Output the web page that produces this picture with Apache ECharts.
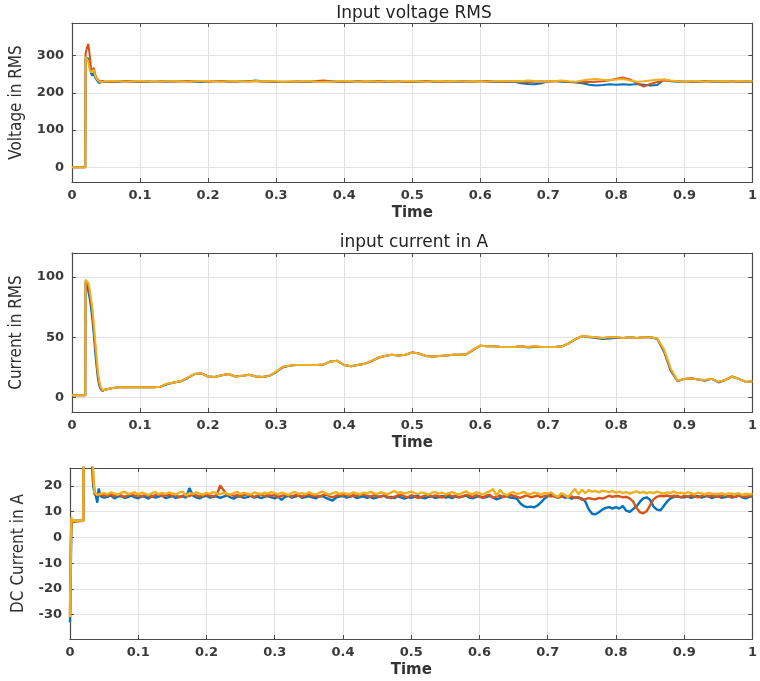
<!DOCTYPE html>
<html><head><meta charset="utf-8">
<script src="https://cdn.jsdelivr.net/npm/echarts@6/dist/echarts.min.js"></script>
<style>html,body{margin:0;padding:0;background:#fff}#c{width:760px;height:681px}</style>
</head><body><div id="c"></div>
<script>
// ---------- labels ----------
const panelTitles = ['Input voltage RMS', 'input current in A', ''];
const yNames = ['Voltage in RMS', 'Current in RMS', 'DC Current in A'];
const xName = 'Time';
const lineColors = ['#0072BD', '#D95319', '#EDB120'];
const xTicks = [0, 0.1, 0.2, 0.3, 0.4, 0.5, 0.6, 0.7, 0.8, 0.9, 1];
const yTicks1 = [0, 100, 200, 300];
const yTicks2 = [0, 50, 100];
const yTicks3 = [-30, -20, -10, 0, 10, 20];
const yRange1 = [-40, 388];
const yRange2 = [-12, 120];
const yRange3 = [-39.5, 27];

// ---------- time samples (panels 1 & 2) ----------
const tAcStart = [0, 0.0195, 0.02, 0.022, 0.024, 0.026, 0.028, 0.03, 0.032, 0.034, 0.036, 0.038, 0.04, 0.042, 0.045, 0.048];
const acSteadyStart = 0.05, acSteadyStep = 0.01, acSteadyCount = 96;

// ---------- panel 1: input voltage RMS ----------
const voltBlue = [0, 0, 295, 300, 292, 272, 252, 246, 255, 241, 235, 231, 226, 228, 232, 230,
  230,229,230,231,230,229,230,230,229,230,
  231,232,231,230,229,231,232,231,230,231,
  232,231,233,231,230,229,230,229,229,230,
  230,231,230,231,230,229,230,231,232,230,
  229,230,231,229,230,229,230,231,230,230,
  231,230,230,229,231,232,230,229,230,229,
  230,226,224,223,226,231,232,230,229,228,
  226,222,220,221,223,222,223,222,224,222,
  220,221,236,231,230,230,229,230,231,230,
  230,231,229,230,230,230];
const voltRed = [0, 0, 305, 322, 332, 302, 266, 258, 268, 250, 240, 235, 232, 230, 231, 230,
  231,230,231,232,231,230,231,230,231,231,
  230,231,232,231,232,230,231,232,231,230,
  231,232,231,230,231,230,229,230,231,230,
  231,232,233,231,230,231,230,231,230,231,
  232,231,230,231,229,230,231,232,231,230,
  230,231,232,231,230,231,232,231,230,231,
  231,230,229,230,231,230,231,232,230,229,
  230,229,230,231,234,238,241,236,226,217,
  224,229,233,232,231,230,231,230,231,231,
  231,230,231,230,231,231];
const voltYellow = [0, 0, 298, 296, 285, 262, 255, 260, 262, 245, 238, 233, 230, 229, 230, 231,
  231,232,231,230,231,232,231,230,230,231,
  232,231,230,231,232,232,231,230,231,232,
  231,230,232,231,232,231,230,231,230,231,
  232,230,229,230,231,232,231,230,232,231,
  230,231,232,230,231,232,231,230,231,232,
  231,232,231,230,232,231,230,231,232,231,
  232,231,233,232,230,231,232,233,231,230,
  233,236,237,235,234,236,237,233,230,231,
  233,235,236,233,231,230,231,232,230,231,
  231,232,230,231,231,231];

// ---------- panel 2: input current RMS ----------
const currBlue = [2, 2, 96, 93, 88, 82, 74, 64, 52, 38, 26, 16, 10, 7, 5.5, 6.5,
  7,8,8.5,8.5,8.5,8.5,8.5,8.5,9,11,
  12.5,13.5,16,19.5,20,17.5,17,18.5,19.5,17.5,
  18,19,17.5,17,18,21,25,26.5,27,27,
  27,27,27.5,30,30.5,27,26,27,28,30,
  33,34.5,35.5,35,35.5,37.5,36.5,34.5,34,34.5,
  35,35.5,35.5,36,39.5,43,42.5,42.5,42,42,
  42,42.5,41.5,42,42,42,42,42.5,45,48.5,
  51,50,49.5,48.5,49,49.5,49.5,50,49.5,50,
  50,48.5,38,22,13.5,15.5,16,15,14,15.5,
  12.5,14.5,17.5,15.5,13,13.5];
const currRed = [2, 2, 97, 96, 93, 87, 79, 70, 57, 43, 30, 19, 12, 8, 5.5, 6.5,
  7,8,8.5,8.5,8.5,8.5,8.5,8.5,9,11.5,
  12.5,13.5,16.5,19.5,20,17.5,17,18.5,19.5,17.5,
  18,19,17.5,17,18,21.5,25.5,26.5,27,27,
  27,27,27.5,30,30.5,27,26,27,28,30.5,
  33,34.5,35.5,35,35.5,37.5,36.5,34.5,34,34.5,
  35,35.5,35.5,36,40,43,42.5,42.5,42,42,
  42,42.5,42,42.5,42,42,42,42.5,45,48.5,
  51,50.5,50,49.5,50,50,49.5,50,49.5,50,
  50,49,39,23,14,15.5,16,15,14.5,15.5,
  13,14.5,17.5,15.5,13,13.5];
const currYellow = [2, 2, 98, 97, 95, 90, 82, 74, 62, 48, 35, 22, 14, 9, 6, 6.5,
  7,8,8.5,8.5,8.5,8.5,8.5,8.5,9,11.5,
  12.5,13.5,16.5,19.5,20,17.5,17,18.5,19.5,17.5,
  18,19,17.5,17,18,21.5,25.5,26.5,27,27,
  27,27,27.5,30,30.5,27,26,27,28,30.5,
  33,34.5,35.5,35,35.5,37.5,36.5,34.5,34,34.5,
  35,35.5,35.5,36,40,43,42.5,42.5,42,42,
  42,42.5,42,42.5,42,42,42,42.5,45,48.5,
  51,50.5,50,49.5,50,50,49.5,50,49.5,50,
  50,49,40,24,14,15.5,16,15,14.5,15.5,
  13,14.5,17.5,15.5,13,13.5];

// ---------- panel 3: DC current ----------
const tDcStart = [0, 0.001, 0.002, 0.003, 0.0195, 0.02, 0.03, 0.032, 0.034, 0.036, 0.038, 0.04, 0.042, 0.045];
const dcSteadyStart = 0.05, dcSteadyStep = 0.005, dcSteadyCount = 191;
const dcBlue = [-33, -15, 4, 6.5, 6.5, 40, 40, 30, 20, 17, 16, 13.5, 19, 16,
  15.5,15.8,16.4,15.2,15.9,16.1,15.4,15.7,16.3,15.6,
  15.2,16.0,15.8,15.1,16.2,15.5,15.9,16.4,15.3,15.7,
  16.1,15.4,15.8,16.0,15.5,19.2,16.3,15.6,15.2,15.9,
  16.2,15.5,15.8,16.0,15.4,15.9,16.3,15.6,15.1,15.8,
  16.0,15.4,15.7,16.2,15.5,15.9,15.3,15.8,16.1,15.6,
  15.2,15.9,14.6,15.8,16.2,15.5,15.9,16.3,15.4,15.7,
  16.0,15.6,15.2,15.9,16.1,15.4,14.8,14.3,15.6,15.9,
  16.1,15.5,15.8,16.2,15.3,15.7,16.0,15.4,15.8,15.2,
  15.6,15.9,16.2,15.5,15.8,15.3,16.0,15.6,15.1,15.7,
  15.4,15.9,16.1,15.5,15.2,15.8,16.0,15.4,15.6,16.2,
  15.5,15.8,15.3,16.0,15.6,15.9,16.3,15.5,15.2,15.8,
  16.0,15.4,15.7,16.2,15.5,14.8,15.3,15.9,16.1,15.5,
  15.4,15.0,13.2,12.2,11.8,12.0,11.7,12.4,13.6,15.0,
  16.0,16.8,15.9,15.5,16.2,15.4,15.8,15.1,15.6,15.3,
  15.2,14.0,11.0,9.2,9.0,9.8,10.8,11.5,11.8,11.2,
  11.8,11.2,12.2,10.4,9.9,11.0,12.0,13.8,15.2,15.6,
  14.6,12.0,10.8,10.5,12.2,14.0,15.2,15.8,16.0,15.6,
  15.6,16.0,15.4,15.8,16.1,15.5,15.9,16.2,15.3,15.8,
  16.0,15.4,15.7,16.1,15.5,15.9,16.3,15.6,15.2,15.8,
  16.0];
const dcRed = [-30, -5, 6, 6.5, 6.5, 40, 40, 36, 22, 18, 16.5, 16, 17, 16.4,
  16.5,16.2,16.8,16.0,16.6,16.3,15.8,16.4,16.9,16.1,
  16.4,15.9,16.6,16.2,15.7,16.5,16.8,16.0,16.3,16.6,
  16.1,16.7,15.6,16.2,16.5,16.0,16.8,16.3,15.9,16.4,
  16.6,16.2,16.0,16.5,20.2,18.4,16.3,16.7,16.1,16.4,
  16.0,16.5,16.8,16.2,15.8,16.4,16.6,16.1,16.5,16.2,
  16.4,15.8,16.1,16.6,16.3,16.0,16.5,16.2,15.9,16.4,
  16.6,16.1,16.3,15.8,16.4,16.7,16.0,15.6,16.2,16.5,
  16.3,16.7,16.0,16.4,16.1,16.5,16.8,16.2,15.9,16.4,
  16.1,15.7,16.4,16.0,15.2,15.8,16.3,16.6,16.0,15.6,
  16.4,16.0,15.3,15.8,16.2,16.5,15.9,16.3,16.0,15.5,
  16.2,16.6,15.9,16.3,15.6,16.0,16.5,16.2,15.8,16.4,
  16.0,15.5,16.2,16.6,15.4,15.9,16.3,15.7,16.1,16.5,
  16.2,15.8,15.4,16.0,16.4,15.6,15.9,16.3,15.7,16.1,
  16.4,15.9,16.2,15.5,15.8,16.3,15.6,16.0,15.3,15.8,
  14.6,14.9,15.3,15.0,14.8,15.4,15.1,15.6,16.2,15.8,
  16.1,16.0,15.6,15.8,15.2,14.0,11.5,9.8,9.4,10.2,
  12.5,14.8,15.8,16.2,16.0,16.3,15.9,16.2,16.0,15.7,
  16.2,15.8,16.4,16.0,15.6,16.1,16.5,15.9,16.3,16.0,
  15.8,16.2,16.5,15.9,16.1,15.7,16.3,16.0,15.8,16.2,
  16.1];
const dcYellow = [-31, -10, 8, 6.5, 6.5, 40, 40, 38, 26, 17.5, 17, 16.5, 17.2, 17.0,
  17.2,16.8,17.5,17.0,16.6,17.3,17.8,16.9,17.1,17.6,
  16.7,17.4,17.0,16.5,17.2,17.7,16.8,17.3,16.9,17.5,
  17.1,16.6,17.4,17.8,16.3,17.2,16.9,17.5,17.0,16.7,
  17.3,16.9,17.6,17.1,16.8,17.4,17.0,16.6,17.2,17.7,
  16.9,17.3,17.0,16.7,17.5,17.1,16.8,17.4,17.0,17.6,
  17.2,16.8,17.4,17.0,16.5,17.3,17.7,16.9,17.2,16.8,
  17.5,17.0,16.7,17.3,17.8,17.1,16.6,17.2,17.6,16.9,
  17.3,17.0,16.8,17.5,17.1,16.7,17.4,17.0,17.8,17.2,
  16.9,17.5,17.2,16.8,17.4,18.0,17.3,17.6,17.0,17.4,
  17.8,17.2,16.9,17.5,17.1,16.6,17.3,17.7,17.0,17.4,
  16.8,17.2,17.6,17.0,16.7,17.3,17.9,17.1,16.8,17.5,
  17.2,16.6,17.4,17.9,18.8,16.2,18.5,17.0,16.4,17.3,
  17.6,16.9,17.2,17.7,17.0,16.8,17.4,17.1,16.6,17.3,
  17.0,17.5,16.4,15.8,17.2,16.5,15.6,17.4,18.9,16.8,
  18.6,17.2,18.4,17.8,18.1,17.5,18.2,17.9,17.6,18.0,
  17.4,17.8,17.2,17.6,17.0,17.5,17.9,17.3,17.7,17.1,
  17.6,17.2,17.8,17.4,17.0,17.5,17.3,17.8,17.1,17.4,
  17.0,17.5,17.2,16.8,17.4,17.1,16.7,17.3,17.0,16.9,
  16.9,17.2,16.6,17.1,17.0,16.8,17.2,16.5,17.0,16.8,
  16.9];

// ---------- build ----------
function sampleTimes(start, step, count) {
  const out = [];
  for (let i = 0; i < count; i++) out.push(+(start + i * step).toFixed(4));
  return out;
}
const tAc = tAcStart.concat(sampleTimes(acSteadyStart, acSteadyStep, acSteadyCount));
const tDc = tDcStart.concat(sampleTimes(dcSteadyStart, dcSteadyStep, dcSteadyCount));
function pairs(times, vals) { return times.map((t, i) => [t, vals[i]]); }

const AXIS = '#4a4a4a';
const GRIDC = '#e2e2e2';
const TICKFONT = { color: '#3a3a3a', fontFamily: 'DejaVu Sans', fontSize: 13, fontWeight: 'bold' };
const grids = [
  { left: 70, top: 23, width: 688, height: 159 },
  { left: 70, top: 253, width: 688, height: 159 },
  { left: 70, top: 468, width: 688, height: 171 }
];
const yRanges = [yRange1, yRange2, yRange3];
const yTicks = [yTicks1, yTicks2, yTicks3];
const yNameGaps = [47, 47, 43];
const lineWidths = [2, 2, 2.4];

const xAxes = [], yAxes = [];
for (let g = 0; g < 3; g++) {
  xAxes.push({
    type: 'value', gridIndex: g, min: 0, max: 1, interval: 0.1,
    name: xName, nameLocation: 'middle', nameGap: 24,
    nameTextStyle: { color: '#333', fontFamily: 'DejaVu Sans', fontSize: 15, fontWeight: 'bold' },
    axisLine: { show: true, onZero: false, lineStyle: { color: AXIS, width: 1.2 } },
    axisTick: { show: true, inside: true, length: 4, lineStyle: { color: AXIS } },
    axisLabel: Object.assign({ margin: 7 }, TICKFONT),
    splitLine: { show: true, lineStyle: { color: GRIDC, width: 1 } }
  });
}
for (let g = 0; g < 3; g++) {
  xAxes.push({
    type: 'value', gridIndex: g, position: 'top', min: 0, max: 1, interval: 0.1,
    axisLine: { show: true, onZero: false, lineStyle: { color: AXIS, width: 1.2 } },
    axisTick: { show: true, inside: true, length: 4, lineStyle: { color: AXIS } },
    axisLabel: { show: false }, splitLine: { show: false }
  });
}
for (let g = 0; g < 3; g++) {
  yAxes.push({
    type: 'value', gridIndex: g, min: yRanges[g][0], max: yRanges[g][1],
    name: yNames[g], nameLocation: 'middle', nameGap: yNameGaps[g],
    nameTextStyle: { color: '#2e2e2e', fontFamily: '"DejaVu Sans Condensed", "Liberation Sans", sans-serif', fontSize: 17 },
    axisLine: { show: true, onZero: false, lineStyle: { color: AXIS, width: 1.2 } },
    axisTick: { show: true, inside: true, length: 4, lineStyle: { color: AXIS }, customValues: yTicks[g] },
    axisLabel: Object.assign({ margin: 8, customValues: yTicks[g] }, TICKFONT),
    splitLine: { show: true, lineStyle: { color: GRIDC, width: 1 } }
  });
}
for (let g = 0; g < 3; g++) {
  yAxes.push({
    type: 'value', gridIndex: g, position: 'right', min: yRanges[g][0], max: yRanges[g][1],
    axisLine: { show: true, onZero: false, lineStyle: { color: AXIS, width: 1.2 } },
    axisTick: { show: true, inside: true, length: 4, lineStyle: { color: AXIS }, customValues: yTicks[g] },
    axisLabel: { show: false, customValues: yTicks[g] }, splitLine: { show: false }
  });
}

const panelData = [
  [voltBlue, voltRed, voltYellow],
  [currBlue, currRed, currYellow],
  [dcBlue, dcRed, dcYellow]
];
const panelTimes = [tAc, tAc, tDc];
const series = [];
for (let g = 0; g < 3; g++) {
  for (let k = 0; k < 3; k++) {
    series.push({
      type: 'line', xAxisIndex: g, yAxisIndex: g,
      data: pairs(panelTimes[g], panelData[g][k]),
      showSymbol: false, symbol: 'none', clip: true, z: 3 + k,
      lineStyle: { color: lineColors[k], width: lineWidths[g] },
      itemStyle: { color: lineColors[k] }
    });
  }
}

const chart = echarts.init(document.getElementById('c'), null, { renderer: 'canvas' });
chart.setOption({
  animation: false,
  backgroundColor: '#ffffff',
  grid: grids,
  xAxis: xAxes,
  yAxis: yAxes,
  series: series,
  graphic: [
    { type: 'text', x: 414, y: 14, style: { text: panelTitles[0], textAlign: 'center', textVerticalAlign: 'middle', fill: '#222', font: '17px "DejaVu Sans"' } },
    { type: 'text', x: 414, y: 243, style: { text: panelTitles[1], textAlign: 'center', textVerticalAlign: 'middle', fill: '#222', font: '17px "DejaVu Sans"' } }
  ]
});
</script>
</body></html>
